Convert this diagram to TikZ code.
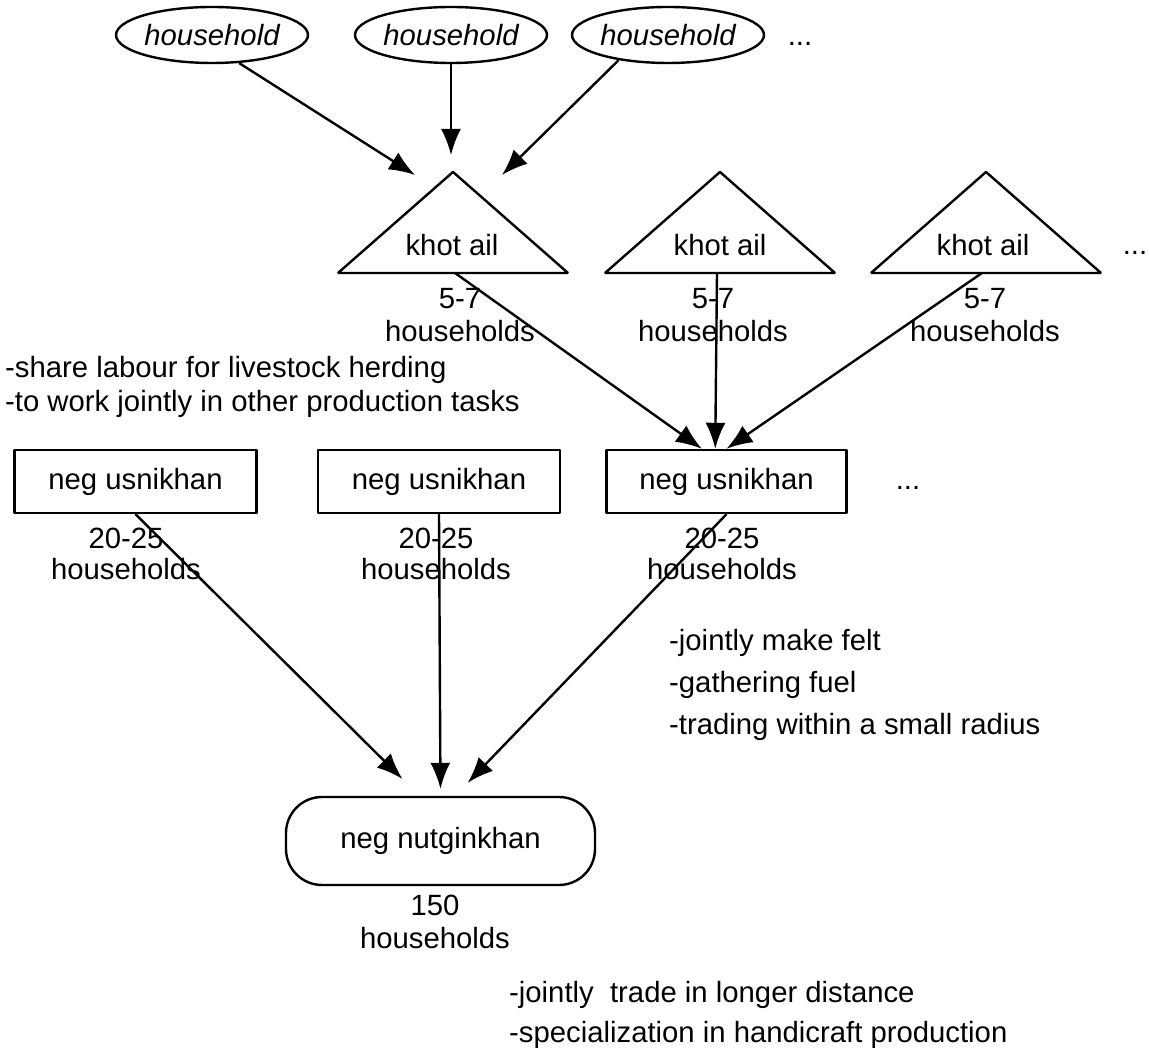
\documentclass[tikz,border=0pt]{standalone}
\usepackage{fontspec}
\setmainfont{Liberation Sans}
\usetikzlibrary{arrows.meta,shapes.geometric}

\begin{document}
\begin{tikzpicture}[>={Latex[length=13bp,width=10bp]},line join=bevel,line width=1.2bp,
    every node/.style={font=\fontsize{14.7}{16.5}\selectfont,inner sep=0pt},
    household/.style={draw,ellipse,minimum width=96bp,minimum height=28bp,font=\fontsize{14.7}{16.5}\selectfont\itshape},
    usnbox/.style={draw,minimum width=121bp,minimum height=31.5bp},
    nutbox/.style={draw,rounded corners=18bp,minimum width=154.5bp,minimum height=44bp},
    count/.style={align=center},
    notes/.style={align=left,anchor=west}]
        %%
        \useasboundingbox (0bp,0bp) rectangle (574.5bp,524bp);
          \node (household_1) at (106bp,506.5bp) [household] {household};
          \node (household_2) at (225.5bp,506.5bp) [household] {household};
          \node (household_3) at (334bp,506.5bp) [household] {household};
          \node (household_more) at (400bp,502bp) {...};
          \coordinate (khotail_1_w) at (207.5bp,436.5bp);
          \coordinate (khotail_1_n) at (225.5bp,446.5bp);
          \coordinate (khotail_1_e) at (251bp,436.5bp);
          \coordinate (khotail_1_top) at (226.5bp,438bp);
          \coordinate (khotail_2_top) at (360bp,438bp);
          \coordinate (khotail_3_top) at (493bp,438bp);
          \coordinate (khotail_1_base) at (227.5bp,387.5bp);
          \coordinate (khotail_2_base) at (358.5bp,387.5bp);
          \coordinate (khotail_3_base) at (491bp,387.5bp);
          \draw (khotail_1_top) -- ++(57.5bp,-50.5bp) -- ++(-115bp,0bp) -- cycle;
          \draw (khotail_2_top) -- ++(57.5bp,-50.5bp) -- ++(-115bp,0bp) -- cycle;
          \draw (khotail_3_top) -- ++(57.5bp,-50.5bp) -- ++(-115bp,0bp) -- cycle;
          \node (khotail_1) at (226bp,401.5bp) {khot ail};
          \node (khotail_2) at (360bp,401.5bp) {khot ail};
          \node (khotail_3) at (491.5bp,401.5bp) {khot ail};
          \node (khotail_more) at (567.5bp,397.5bp) {...};
          \node (usnikhan_1) at (67.75bp,283.25bp) [usnbox] {neg usnikhan};
          \node (usnikhan_2) at (219.5bp,283.25bp) [usnbox] {neg usnikhan};
          \node (usnikhan_3) at (363.25bp,283.25bp) [usnbox,minimum width=120bp] {neg usnikhan};
          \node (usnikhan_more) at (454bp,280bp) {...};
          \node (nutginkhan) at (220.25bp,103.5bp) [nutbox] {neg nutginkhan};
          \draw [->] (household_1.314) -- (khotail_1_w);
          \draw [->] (household_2.south) -- (khotail_1_n);
          \draw [->] (household_3.207) -- (khotail_1_e);
          \draw [->] (khotail_1_base) -- (usnikhan_3.127);
          \draw [->] (khotail_2_base) -- (usnikhan_3.109);
          \draw [->] (khotail_3_base) -- (usnikhan_3.north);
          \draw [->,shorten >=12bp] (usnikhan_1.south) -- (nutginkhan.115);
          \draw [->,shorten >=3.5bp] (usnikhan_2.south) -- (nutginkhan.north);
          \draw [->,shorten >=9bp] (usnikhan_3.south) -- (nutginkhan.72);
          \node (khotail_1_size) at (230bp,366.5bp) [count] {5-7\\households};
          \node (khotail_2_size) at (356.5bp,366.5bp) [count] {5-7\\households};
          \node (khotail_3_size) at (492.5bp,366.5bp) [count] {5-7\\households};
          \node (usnikhan_1_size) at (63bp,247bp) [count,font=\fontsize{14.7}{15.5}\selectfont] {20-25\\households};
          \node (usnikhan_2_size) at (218bp,247bp) [count,font=\fontsize{14.7}{15.5}\selectfont] {20-25\\households};
          \node (usnikhan_3_size) at (361bp,247bp) [count,font=\fontsize{14.7}{15.5}\selectfont] {20-25\\households};
          \node (nutginkhan_size) at (217.5bp,63.25bp) [count] {150\\households};
          \node (khotail_tasks) at (2bp,330.5bp) [notes,font=\fontsize{14.7}{17}\selectfont] {-share labour for livestock herding\\-to work jointly in other production tasks};
          \node (usnikhan_tasks) at (334bp,181.5bp) [notes,font=\fontsize{14.7}{21}\selectfont] {-jointly make felt\\-gathering fuel\\-trading within a small radius};
          \node (nutginkhan_tasks) at (254bp,16.5bp) [notes,font=\fontsize{14.7}{20}\selectfont] {-jointly\ \ trade in longer distance\\-specialization in handicraft production};
        %
        \end{tikzpicture}
\end{document}
